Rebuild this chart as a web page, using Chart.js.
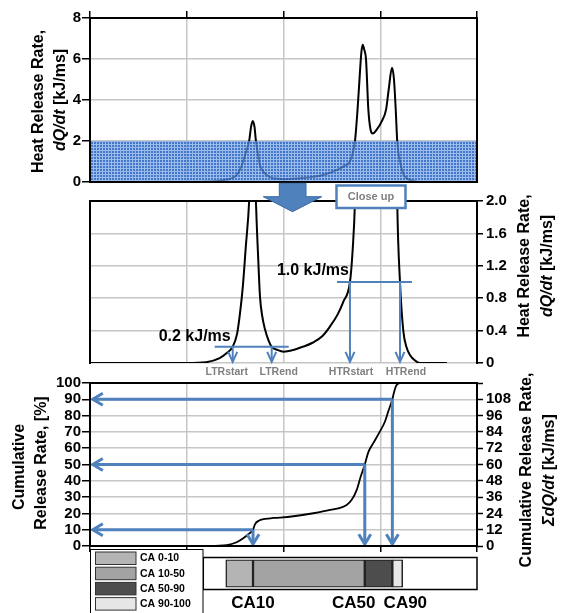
<!DOCTYPE html>
<html>
<head>
<meta charset="utf-8">
<script src="https://cdn.jsdelivr.net/npm/chart.js@4.4.1/dist/chart.umd.min.js"></script>
<style>
  html, body { margin: 0; padding: 0; background: #fff; }
  #wrap { position: relative; width: 562px; height: 613px; overflow: hidden; }
  #wrap canvas { position: absolute; left: 0; top: 0; }
</style>
</head>
<body>
<div id="wrap">
  <canvas id="hrrFull" width="562" height="613"></canvas>
  <canvas id="hrrZoom" width="562" height="613"></canvas>
  <canvas id="cumulative" width="562" height="613"></canvas>
  <canvas id="phasing" width="562" height="613"></canvas>
</div>
<script>
// ---- crank-angle axis shared by every panel [deg] ----
const ANGLE_MIN = -20;
const ANGLE_MAX = 20;
const ANGLE_TICKS = [-20, -10, 0, 10, 20];

// ---- heat release rate trace [kJ/ms] ----
const HRR_ANGLE = [-20, -10, -8.0, -6.6, -5.9, -5.25, -4.8, -4.5, -4.2, -3.9,
  -3.55, -3.35, -3.18, -3.0, -2.85, -2.6, -2.43, -2.2, -1.9, -1.55,
  -1.22, -0.6, 0.0, 1.0, 2.0, 3.0, 4.0, 4.8, 5.6, 6.2,
  6.87, 7.15, 7.39, 7.63, 7.83, 8.04, 8.19, 8.35, 8.53, 8.77,
  9.0, 9.22, 9.63, 10.15, 10.6, 10.87, 11.21, 11.42, 11.6, 11.76,
  12.04, 12.38, 12.7, 13.07, 13.6, 14.1, 16.9];
const HRR_VALUE = [0, 0, 0.01, 0.06, 0.12, 0.2, 0.36, 0.61, 0.95, 1.43,
  2.0, 2.7, 2.98, 2.7, 2.0, 1.25, 0.82, 0.58, 0.41, 0.28,
  0.2, 0.16, 0.14, 0.16, 0.2, 0.25, 0.33, 0.45, 0.6, 0.76,
  1.0, 1.4, 2.0, 3.37, 4.82, 6.29, 6.7, 6.45, 5.98, 3.53,
  2.55, 2.37, 2.55, 2.96, 3.53, 4.5, 5.57, 5.0, 3.53, 1.96,
  1.0, 0.4, 0.2, 0.1, 0.03, 0, 0];

// ---- cumulative heat release [%] ----
const CUM_ANGLE = [-8.29, -5.87, -4.84, -4.16, -3.64, -3.15, -2.95, -2.6, -1.91, -1.05,
  -0.36, 3.08, 4.81, 6.53, 7.05, 7.57, 7.95, 8.4, 8.77, 9.28,
  9.97, 10.49, 10.83, 11.25, 11.45, 11.65, 12.04, 18.76];
const CUM_PCT = [0, 0.6, 2.3, 4.7, 7.2, 10, 13.3, 15.4, 16.6, 17.2,
  17.4, 20.1, 22.1, 25.2, 28.3, 34.4, 42, 50, 57.6, 63.1,
  70.3, 76.4, 82.6, 90, 95, 98.4, 100, 100];
const CUM_TOTAL_KJ = 120;

// ---- reaction thresholds and their crossing angles ----
const LTR_LEVEL = 0.2;
const HTR_LEVEL = 1.0;
const MARK_NAMES = ['LTRstart', 'LTRend', 'HTRstart', 'HTRend'];
const MARK_ANGLES = [-5.25, -1.22, 6.87, 12.04];

// ---- combustion phasing ----
const CA_LEVELS = [0, 10, 50, 90, 100];
const CA_ANGLES = [-5.97, -3.15, 8.4, 11.25, 12.32];
const CA_BANDS = ['CA 0-10', 'CA 10-50', 'CA 50-90', 'CA 90-100'];

// ---- tick values ----
const HRR_FULL_TICKS = [0, 2, 4, 6, 8];
const HRR_ZOOM_TICKS = [0, 0.4, 0.8, 1.2, 1.6, 2.0];
const CUM_PCT_TICKS = [0, 10, 20, 30, 40, 50, 60, 70, 80, 90, 100];
const CUM_KJ_TICKS = [0, 12, 24, 36, 48, 60, 72, 84, 96, 108, 120];
const CUM_KJ_LABELS = [0, 12, 24, 36, 48, 60, 72, 84, 96, 108];

// ---- styling ----
const FONT = '"Liberation Sans", Arial, Helvetica, sans-serif';
const BLUE = '#4f81bd';
const GRID = '#c6c6c6';
const BAND_COLORS = ['#b4b4b4', '#a3a3a3', '#4d4d4d', '#e6e6e6'];
const TICK_FONT = { family: FONT, size: 15, weight: 'bold' };

const pts = (xs, ys) => xs.map((x, i) => ({ x, y: ys[i] }));
const fixedTicks = vals => axis => { axis.ticks = vals.map(v => ({ value: v })); };

function baseOptions(padding) {
  return {
    responsive: false,
    animation: false,
    events: [],
    layout: { padding, autoPadding: false },
    plugins: { legend: { display: false }, tooltip: { enabled: false } }
  };
}

function angleAxis(position, tickLen) {
  return {
    type: 'linear', position, min: ANGLE_MIN, max: ANGLE_MAX,
    afterBuildTicks: fixedTicks(ANGLE_TICKS),
    ticks: { display: false, autoSkip: false },
    grid: { color: GRID, lineWidth: 1.5, drawTicks: tickLen > 0, tickLength: tickLen,
            tickColor: '#000', tickWidth: 1.5 },
    border: { display: false },
    afterFit: s => { s.height = 0; }
  };
}

function valueAxis(position, min, max, ticks, width, tickLen, pad, extra) {
  return Object.assign({
    type: 'linear', position, min, max,
    afterBuildTicks: fixedTicks(ticks),
    ticks: { font: TICK_FONT, color: '#000', padding: pad, autoSkip: false },
    grid: { color: GRID, lineWidth: 1.5, tickLength: tickLen, tickColor: '#000', tickWidth: 1.5 },
    border: { display: false },
    afterFit: s => { s.width = width; }
  }, extra || {});
}

function drawFrame(ctx, a, sides) {
  ctx.save();
  ctx.strokeStyle = '#000';
  ctx.lineWidth = 2;
  ctx.lineCap = 'square';
  ctx.beginPath();
  if (sides.top) { ctx.moveTo(a.left, a.top); ctx.lineTo(a.right, a.top); }
  if (sides.bottom) { ctx.moveTo(a.left, a.bottom); ctx.lineTo(a.right, a.bottom); }
  if (sides.left) { ctx.moveTo(a.left, a.top); ctx.lineTo(a.left, a.bottom); }
  if (sides.right) { ctx.moveTo(a.right, a.top); ctx.lineTo(a.right, a.bottom); }
  ctx.stroke();
  ctx.restore();
}

// two-part rotated axis title (reads bottom to top)
function rotatedTitle(ctx, cx, cy, parts, size) {
  ctx.save();
  ctx.translate(cx, cy);
  ctx.rotate(-Math.PI / 2);
  ctx.textBaseline = 'middle';
  ctx.textAlign = 'left';
  ctx.fillStyle = '#000';
  const fonts = parts.map(p => (p.italic ? 'italic ' : '') + 'bold ' + size + 'px ' + FONT);
  const widths = parts.map((p, i) => { ctx.font = fonts[i]; return ctx.measureText(p.text).width; });
  let x = -widths.reduce((s, w) => s + w, 0) / 2;
  parts.forEach((p, i) => { ctx.font = fonts[i]; ctx.fillText(p.text, x, 0); x += widths[i]; });
  ctx.restore();
}

function arrow(ctx, x1, y1, x2, y2, head, half, width) {
  ctx.save();
  ctx.strokeStyle = BLUE;
  ctx.lineWidth = width;
  ctx.lineJoin = 'miter';
  const ang = Math.atan2(y2 - y1, x2 - x1);
  const tx = x2 - Math.cos(ang) * width * 0.6, ty = y2 - Math.sin(ang) * width * 0.6;
  ctx.beginPath();
  ctx.moveTo(x1, y1);
  ctx.lineTo(tx, ty);
  ctx.stroke();
  const bx = tx - head * Math.cos(ang), by = ty - head * Math.sin(ang);
  const nx = -Math.sin(ang) * half, ny = Math.cos(ang) * half;
  ctx.beginPath();
  ctx.moveTo(bx + nx, by + ny);
  ctx.lineTo(tx, ty);
  ctx.lineTo(bx - nx, by - ny);
  ctx.stroke();
  ctx.restore();
}

function hatchPattern(ctx) {
  const c = document.createElement('canvas');
  c.width = 3; c.height = 3;
  const p = c.getContext('2d');
  p.fillStyle = 'rgba(48,104,196,0.9)';
  p.fillRect(0, 0, 3, 3);
  p.clearRect(0, 0, 3, 1);
  p.clearRect(0, 0, 1, 3);
  p.fillStyle = 'rgba(118,162,228,0.72)';
  p.fillRect(0, 0, 3, 1);
  p.fillRect(0, 1, 1, 2);
  return ctx.createPattern(c, 'repeat');
}

const hrrTitle = [{ text: 'dQ/dt', italic: true }, { text: ' [kJ/ms]' }];

// ---------- panel 1: full heat release rate ----------
new Chart(document.getElementById('hrrFull'), {
  type: 'line',
  data: { datasets: [{
    data: pts(HRR_ANGLE, HRR_VALUE), borderColor: '#000', borderWidth: 2,
    pointRadius: 0, cubicInterpolationMode: 'monotone'
  }] },
  options: Object.assign(baseOptions({ left: 50, right: 85, top: 18, bottom: 431 }), {
    scales: {
      x: angleAxis('top', 7),
      y: valueAxis('left', 0, 8, HRR_FULL_TICKS, 40, 8, 1)
    }
  }),
  plugins: [{
    id: 'closeUpWindow',
    afterDatasetsDraw(chart) {
      const { ctx, chartArea: a, scales: { y } } = chart;
      const top = y.getPixelForValue(HRR_ZOOM_TICKS[HRR_ZOOM_TICKS.length - 1]);
      ctx.save();
      ctx.fillStyle = hatchPattern(ctx);
      ctx.fillRect(a.left, top, a.right - a.left, y.getPixelForValue(0) - top);
      ctx.restore();
      drawFrame(ctx, a, { top: 1, bottom: 1, left: 1, right: 1 });
    },
    afterDraw(chart) {
      const ctx = chart.ctx;
      rotatedTitle(ctx, 38.5, 101.5, [{ text: 'Heat Release Rate,' }], 16);
      rotatedTitle(ctx, 61, 100, hrrTitle, 16);
    }
  }]
});

// ---------- panel 2: close-up of the low-rate region ----------
new Chart(document.getElementById('hrrZoom'), {
  type: 'line',
  data: { datasets: [{
    data: pts(HRR_ANGLE, HRR_VALUE), borderColor: '#000', borderWidth: 2,
    pointRadius: 0, cubicInterpolationMode: 'monotone'
  }] },
  options: Object.assign(baseOptions({ left: 90, right: 35, top: 201, bottom: 250 }), {
    scales: {
      x: angleAxis('bottom', 0),
      y: valueAxis('right', 0, 2, HRR_ZOOM_TICKS, 50, 6, 3, {}),
    }
  }),
  plugins: [{
    id: 'thresholds',
    beforeInit(chart) {
      chart.options.scales.y.ticks.callback = v => (v === 0 ? '0' : v.toFixed(1));
    },
    afterDatasetsDraw(chart) {
      const { ctx, chartArea: a, scales: { x, y } } = chart;
      const px = MARK_ANGLES.map(v => x.getPixelForValue(v));
      const yL = y.getPixelForValue(LTR_LEVEL), yH = y.getPixelForValue(HTR_LEVEL);
      ctx.save();
      ctx.strokeStyle = BLUE;
      ctx.lineWidth = 2;
      ctx.beginPath();
      ctx.moveTo(px[0] - 18, yL); ctx.lineTo(px[1] + 17, yL);
      ctx.moveTo(px[2] - 13, yH); ctx.lineTo(px[3] + 12, yH);
      ctx.stroke();
      ctx.restore();
      [yL, yL, yH, yH].forEach((yy, i) => arrow(ctx, px[i], yy, px[i], a.bottom, 10, 4.5, 2));
      drawFrame(ctx, a, { top: 1, left: 1, right: 1 });
    },
    afterDraw(chart) {
      const { ctx, chartArea: a, scales: { x, y } } = chart;
      const px = MARK_ANGLES.map(v => x.getPixelForValue(v));
      ctx.save();
      ctx.fillStyle = '#000';
      ctx.font = 'bold 16px ' + FONT;
      ctx.textAlign = 'right';
      ctx.textBaseline = 'middle';
      ctx.fillText(LTR_LEVEL.toFixed(1) + ' kJ/ms', px[0] - 2, y.getPixelForValue(LTR_LEVEL) - 10);
      ctx.fillText(HTR_LEVEL.toFixed(1) + ' kJ/ms', px[2] - 1, y.getPixelForValue(HTR_LEVEL) - 11);
      // event names under the axis
      ctx.fillStyle = '#7f7f7f';
      ctx.font = 'bold 10.5px ' + FONT;
      ctx.textAlign = 'center';
      const shift = [-6, 7, 1, 6];
      MARK_NAMES.forEach((n, i) => ctx.fillText(n, px[i] + shift[i], a.bottom + 9.5));
      // block arrow pointing from the window above to this close-up
      ctx.beginPath();
      ctx.moveTo(279.3, 183.3); ctx.lineTo(306, 183.3); ctx.lineTo(306, 196.7);
      ctx.lineTo(321.7, 196.7); ctx.lineTo(292.5, 211.7); ctx.lineTo(263.3, 196.7);
      ctx.lineTo(279.3, 196.7); ctx.closePath();
      ctx.fillStyle = BLUE; ctx.fill();
      ctx.strokeStyle = '#3b6aa3'; ctx.lineWidth = 1; ctx.stroke();
      // "Close up" tag
      ctx.fillStyle = '#fff';
      ctx.fillRect(336.5, 185.5, 69, 22.5);
      ctx.strokeStyle = BLUE; ctx.lineWidth = 2.5;
      ctx.strokeRect(336.5, 185.5, 69, 22.5);
      ctx.fillStyle = '#808080';
      ctx.font = 'bold 11px ' + FONT;
      ctx.textAlign = 'center';
      ctx.fillText('Close up', 371, 197);
      ctx.restore();
      rotatedTitle(ctx, 525, 266, [{ text: 'Heat Release Rate,' }], 16);
      rotatedTitle(ctx, 548, 266, hrrTitle, 16);
    }
  }]
});

// ---------- panel 3: cumulative heat release ----------
new Chart(document.getElementById('cumulative'), {
  type: 'line',
  data: { datasets: [{
    data: pts(CUM_ANGLE, CUM_PCT), borderColor: '#000', borderWidth: 1.8,
    pointRadius: 0, cubicInterpolationMode: 'monotone', yAxisID: 'y'
  }] },
  options: Object.assign(baseOptions({ left: 50, right: 35, top: 383, bottom: 67 }), {
    scales: {
      x: angleAxis('bottom', 6),
      y: valueAxis('left', 0, 100, CUM_PCT_TICKS, 40, 8, 1),
      y2: valueAxis('right', 0, CUM_TOTAL_KJ, CUM_KJ_TICKS, 50, 6, 3, {
        grid: { drawOnChartArea: false, tickLength: 6, tickColor: '#000', tickWidth: 1.5 },
        ticks: { font: TICK_FONT, color: '#000', padding: 3, autoSkip: false,
                 callback: v => (CUM_KJ_LABELS.includes(v) ? String(v) : '') }
      })
    }
  }),
  plugins: [{
    id: 'phasingArrows',
    afterDatasetsDraw(chart) {
      const { ctx, chartArea: a, scales: { x, y } } = chart;
      for (let i = 1; i <= 3; i++) {
        const px = x.getPixelForValue(CA_ANGLES[i]);
        const py = y.getPixelForValue(CA_LEVELS[i]);
        arrow(ctx, px, py, a.left + 1, py, 10, 6, 3);
        arrow(ctx, px, py, px, a.bottom, 10, 6, 3);
      }
      drawFrame(ctx, a, { top: 1, bottom: 1, left: 1, right: 1 });
    },
    afterDraw(chart) {
      const ctx = chart.ctx;
      rotatedTitle(ctx, 20, 467, [{ text: 'Cumulative' }], 16);
      rotatedTitle(ctx, 42, 463, [{ text: 'Release Rate, [%]' }], 16);
      rotatedTitle(ctx, 527, 470, [{ text: 'Cumulative Release Rate,' }], 16);
      rotatedTitle(ctx, 550, 470, [{ text: '\u03A3dQ/dt', italic: true }, { text: ' [kJ/ms]' }], 16);
    }
  }]
});

// ---------- phasing bar with legend ----------
new Chart(document.getElementById('phasing'), {
  type: 'bar',
  data: {
    labels: ['phasing'],
    datasets: CA_BANDS.map((label, i) => ({
      label,
      data: [[CA_ANGLES[i], CA_ANGLES[i + 1]]],
      backgroundColor: BAND_COLORS[i],
      borderColor: '#222',
      borderWidth: 1.5,
      borderSkipped: false,
      grouped: false,
      barPercentage: 1,
      categoryPercentage: 1
    }))
  },
  options: Object.assign(baseOptions({ left: 90, right: 85, top: 559.5, bottom: 25.5 }), {
    indexAxis: 'y',
    scales: {
      x: { type: 'linear', min: ANGLE_MIN, max: ANGLE_MAX, display: false },
      y: { display: false }
    }
  }),
  plugins: [{
    id: 'barFrameLegend',
    beforeDatasetsDraw(chart) {
      const { ctx, chartArea: a, scales: { x } } = chart;
      const x0 = x.getPixelForValue(CUM_ANGLE[0]);
      ctx.save();
      ctx.fillStyle = '#fff';
      ctx.fillRect(x0, a.top - 2, a.right - x0, a.bottom - a.top + 4);
      ctx.strokeStyle = '#000';
      ctx.lineWidth = 1.5;
      ctx.strokeRect(x0, a.top - 2, a.right - x0, a.bottom - a.top + 4);
      ctx.restore();
    },
    afterDraw(chart) {
      const { ctx, scales: { x } } = chart;
      ctx.save();
      // phasing labels
      ctx.fillStyle = '#000';
      ctx.font = 'bold 17px ' + FONT;
      ctx.textAlign = 'center';
      ctx.textBaseline = 'middle';
      const shift = [0, -11, 13];
      [1, 2, 3].forEach((k, j) => {
        ctx.fillText('CA' + CA_LEVELS[k], x.getPixelForValue(CA_ANGLES[k]) + shift[j], 603.5);
      });
      // legend
      ctx.fillStyle = '#fff';
      ctx.fillRect(90, 549.5, 113, 70);
      ctx.strokeStyle = '#000';
      ctx.lineWidth = 1;
      ctx.strokeRect(90.5, 549.5, 112.5, 70);
      ctx.font = 'bold 10.5px ' + FONT;
      ctx.textAlign = 'left';
      chart.data.datasets.forEach((ds, i) => {
        const top = 552 + i * 15.2;
        ctx.fillStyle = ds.backgroundColor;
        ctx.fillRect(95.5, top, 40.5, 12.5);
        ctx.strokeStyle = '#333';
        ctx.strokeRect(95.5, top, 40.5, 12.5);
        ctx.fillStyle = '#000';
        ctx.fillText(ds.label, 140, top + 6.5);
      });
      ctx.restore();
    }
  }]
});
</script>
</body>
</html>
